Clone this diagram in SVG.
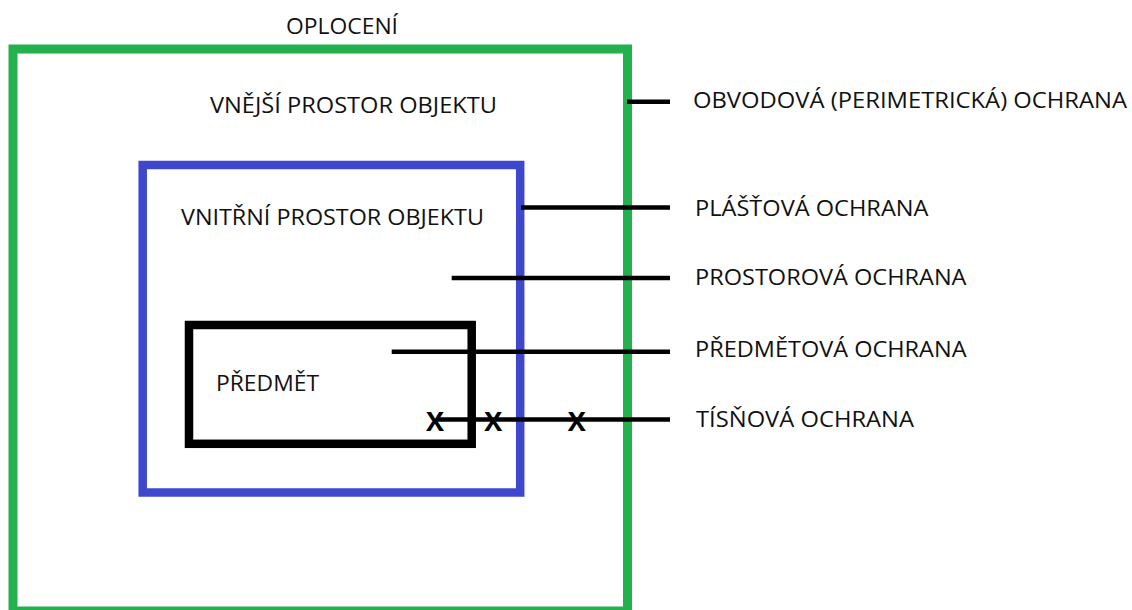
<svg xmlns="http://www.w3.org/2000/svg" width="1132" height="610" viewBox="0 0 1132 610">
<style>
text{font-family:"Open Sans","Liberation Sans",sans-serif;font-size:21.5px;fill:#111;}
.box{fill:none;}
.g{stroke:#22b14c;stroke-width:9;}
.b{stroke:#3f48cc;stroke-width:8.5;}
.k{stroke:#000;stroke-width:8.5;}
.ln{stroke:#000;stroke-width:4.5;fill:none;}
.x{font-size:27px;font-weight:bold;text-anchor:middle;fill:#000;}
</style>
<rect width="1132" height="610" fill="#fff"/>
<g id="fence">
<rect class="box g" x="13" y="49" width="614.5" height="562"/>
<text x="286" y="34.3" textLength="112" lengthAdjust="spacingAndGlyphs">OPLOCENÍ</text>
<text x="210" y="113.3" textLength="287" lengthAdjust="spacingAndGlyphs">VNĚJŠÍ PROSTOR OBJEKTU</text>
</g>
<g id="inner">
<rect class="box b" x="142.7" y="165" width="377.5" height="327.5"/>
<text x="181" y="225" textLength="303" lengthAdjust="spacingAndGlyphs">VNITŘNÍ PROSTOR OBJEKTU</text>
</g>
<g id="object">
<rect class="box k" x="189" y="325" width="282.7" height="118.8"/>
<text x="216" y="391" textLength="103" lengthAdjust="spacingAndGlyphs">PŘEDMĚT</text>
</g>
<g id="connectors">
<line class="ln" x1="627" y1="101.7" x2="670" y2="101.7"/>
<line class="ln" x1="521" y1="207.5" x2="670" y2="207.5"/>
<line class="ln" x1="451.7" y1="278" x2="670" y2="278"/>
<line class="ln" x1="391.7" y1="351.7" x2="670" y2="351.7"/>
<line class="ln" x1="437" y1="419.5" x2="670" y2="419.5"/>
</g>
<g id="marks">
<text class="x" x="435" y="431">X</text>
<text class="x" x="493.3" y="431">X</text>
<text class="x" x="576.7" y="431">X</text>
</g>
<g id="label-obvodova"><text x="693" y="108.3" textLength="434" lengthAdjust="spacingAndGlyphs">OBVODOVÁ (PERIMETRICKÁ) OCHRANA</text></g>
<g id="label-plastova"><text x="695" y="215.7" textLength="233.5" lengthAdjust="spacingAndGlyphs">PLÁŠŤOVÁ OCHRANA</text></g>
<g id="label-prostorova"><text x="695" y="285" textLength="271.5" lengthAdjust="spacingAndGlyphs">PROSTOROVÁ OCHRANA</text></g>
<g id="label-predmetova"><text x="695" y="356.7" textLength="271.5" lengthAdjust="spacingAndGlyphs">PŘEDMĚTOVÁ OCHRANA</text></g>
<g id="label-tisnova"><text x="696" y="427.3" textLength="218" lengthAdjust="spacingAndGlyphs">TÍSŇOVÁ OCHRANA</text></g>
</svg>
